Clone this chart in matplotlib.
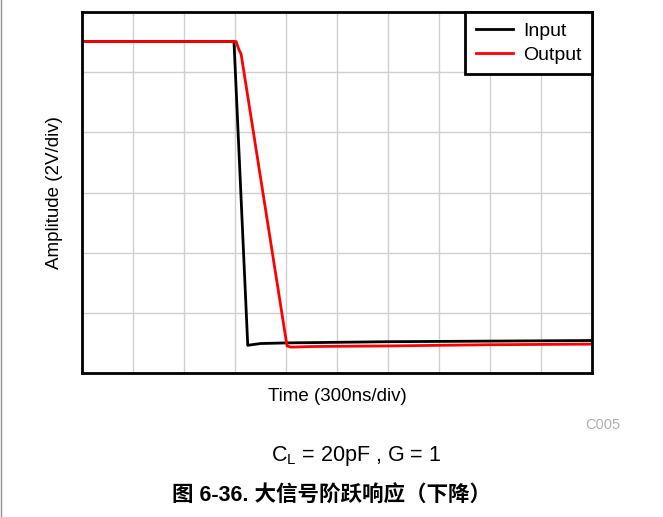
import matplotlib
matplotlib.use("Agg")
from matplotlib import pyplot as plt

# values in divisions (x: 300ns/div, y: 2V/div)
input_x = [0, 2.98, 3.05, 3.25, 3.5, 4.0, 6.0, 8.0, 10.0]
input_y = [5.51, 5.51, 4.2, 0.46, 0.49, 0.50, 0.52, 0.53, 0.54]
output_x = [0, 3.02, 3.08, 3.12, 4.02, 4.1, 4.5, 6.0, 8.0, 10.0]
output_y = [5.51, 5.51, 5.37, 5.3, 0.45, 0.43, 0.44, 0.45, 0.47, 0.48]

plt.rcParams['font.family'] = ['Liberation Sans', 'Noto Sans CJK SC', 'DejaVu Sans']

fig = plt.figure(figsize=(6.63, 5.17), dpi=100)
ax = fig.add_axes([82/663, 144/517, 510/663, 361/517])

ax.plot(input_x, input_y, c="black", lw=2, label="Input")
ax.plot(output_x, output_y, c="red", lw=2, label="Output")

ax.set_xlim(0, 10)
ax.set_ylim(0, 6)
ax.set_xticks(range(0, 11))
ax.set_yticks(range(0, 7))
ax.tick_params(length=0, labelleft=False, labelbottom=False)
ax.grid(color="#d0d0d0", lw=1)
for s in ax.spines.values():
    s.set_linewidth(2)

leg = ax.legend(loc="upper right", borderaxespad=0, fancybox=False, framealpha=1,
                edgecolor="black", fontsize=14, handlelength=1.9, borderpad=0.55,
                labelspacing=0.3, handletextpad=0.5)
leg.get_frame().set_linewidth(2)

ax.set_xlabel("Time (300ns/div)", fontsize=13.5, labelpad=11)
ax.set_ylabel("Amplitude (2V/div)", fontsize=13.5, labelpad=14)

fig.text(603/663, 1 - 425/517, "C005", color="#b0b0b0", fontsize=10.5, ha="center", va="center")
fig.text(356/663, 1 - 456/517, "C$_\\mathregular{L}$ = 20pF , G = 1", fontsize=15.5, ha="center", va="center")
fig.text(331/663, 1 - 495/517, "图 6-36. 大信号阶跃响应（下降）", fontsize=15.5, fontweight="bold",
         ha="center", va="center")
fig.add_artist(plt.Line2D([0.5/663, 0.5/663], [0, 1], color="#909090", lw=1))

fig.savefig("out.png")
